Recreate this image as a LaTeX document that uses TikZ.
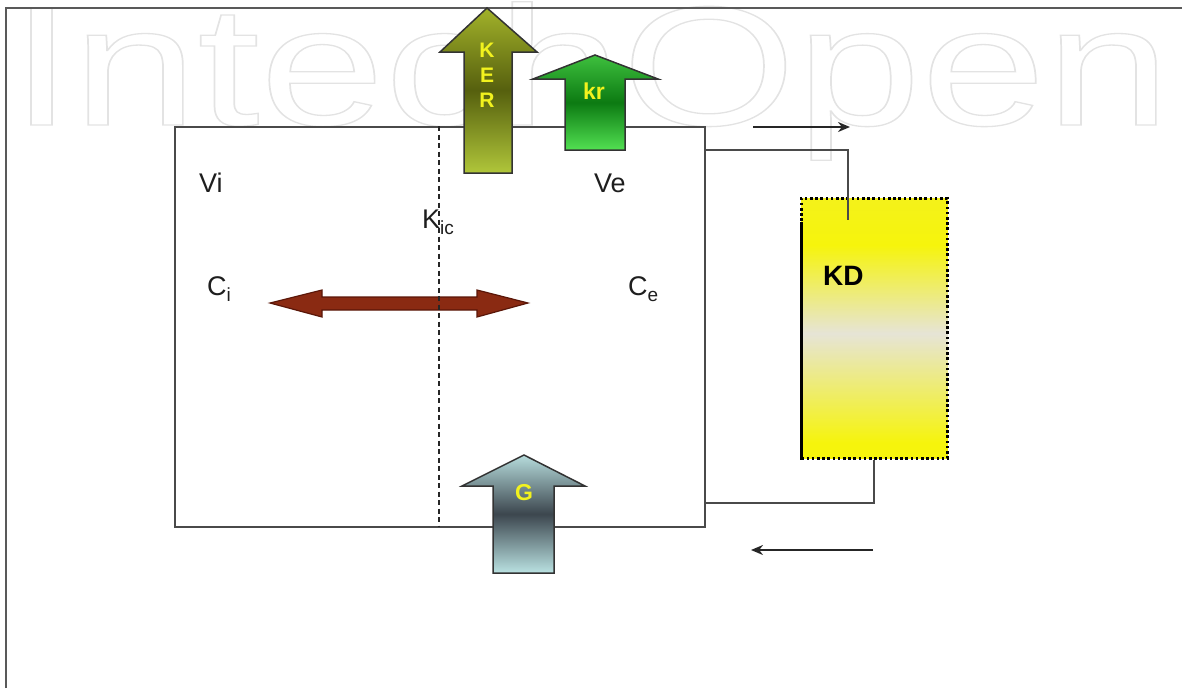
\documentclass[tikz,border=0pt]{standalone}
\usepackage{fontspec}
\setmainfont{Liberation Sans}
\usetikzlibrary{calc,arrows.meta}
\definecolor{kdy}{HTML}{F6F40C}
\definecolor{kdyt}{HTML}{F4F21A}
\definecolor{kdg}{HTML}{E6E4D6}
\definecolor{lineg}{HTML}{4A4A4A}
\definecolor{txtc}{HTML}{1E1E1E}
\definecolor{arrtxt}{HTML}{F2F21E}
\definecolor{kerT}{HTML}{A2B22A}
\definecolor{kerM}{HTML}{56600E}
\definecolor{kerB}{HTML}{B0C63A}
\definecolor{krT}{HTML}{3EC03E}
\definecolor{krM}{HTML}{0C7A12}
\definecolor{krB}{HTML}{52E052}
\definecolor{gT}{HTML}{B6DCDC}
\definecolor{gM}{HTML}{3C464E}
\definecolor{gB}{HTML}{BAE2E2}
\definecolor{redA}{HTML}{8A2A12}
\definecolor{redD}{HTML}{5A1608}
\pgfdeclareverticalshading{kdshade}{100bp}{color(0bp)=(kdy); color(28bp)=(kdy); color(49bp)=(kdg); color(66bp)=(kdy); color(75bp)=(kdyt); color(100bp)=(kdyt)}
\begin{document}
\begin{tikzpicture}[x=1pt,y=-1pt,
  lbl/.style={font=\fontsize{27}{27}\selectfont, inner sep=0pt, anchor=base west, text=txtc},
  arrlbl/.style={font=\fontsize{21}{21}\selectfont\bfseries, inner sep=0pt, text=arrtxt},
  fatarrow/.style={draw=black!80, line width=1.5pt, line join=miter},
  flow/.style={-{Stealth[length=12pt,width=10pt]}, line width=2pt, draw=black!85},
  wire/.style={line width=2pt, draw=lineg}]
\useasboundingbox (0,0) rectangle (1182,688);
% watermark
\node[anchor=base west, inner sep=0pt, xscale=1.32, text=black, text height=118pt, text depth=0pt] (wm) at (10,125)
  {\fontsize{170}{170}\selectfont\special{pdf:literal direct 1 Tr 1.3 w 0.89 G}IntechOpen\special{pdf:literal direct 0 Tr 0 G}};
% outer frame
\draw[line width=2.5pt, draw=black!65] (6,688) -- (6,8) -- (1182,8);
% main box
\node[draw=lineg, line width=2pt, minimum width=530pt, minimum height=400pt, anchor=north west, inner sep=0pt] (main) at (174,126) {};
% KD box
\node[shade, shading=kdshade, draw=black, line width=2.6pt, dash pattern=on 2.6pt off 2.6pt,
  minimum width=146pt, minimum height=260pt, anchor=north west, inner sep=0pt] (kd) at (800,197) {};
\draw[line width=3pt, black] ($(kd.north west)+(1,25)$) -- ($(kd.south west)+(1,0)$);
\node[font=\fontsize{28}{28}\selectfont\bfseries, inner sep=0pt, anchor=base west, text=black] (kdlbl) at (823,285) {KD};
% connectors to KD
\coordinate (kdin) at (848,220);
\draw[wire] (main.east |- 0,150) -| (kdin);
\draw[wire] (main.east |- 0,503) -| (kd.south);
\coordinate (f1a) at (753,127); \coordinate (f1b) at (850,127);
\coordinate (f2a) at (873,550); \coordinate (f2b) at (751,550);
\draw[flow] (f1a) -- (f1b);
\draw[flow] (f2a) -- (f2b);
% red double arrow
\draw[fatarrow, draw=redD, fill=redA, line width=1.2pt] (270,303) -- (322,290) -- (322,297) -- (477,297) -- (477,290) -- (528,303) -- (477,317) -- (477,310) -- (322,310) -- (322,317) -- cycle;
% dashed divider
\coordinate (dtop) at (439,126); \coordinate (dbot) at (439,526);
\draw[line width=1.6pt, black!85, dash pattern=on 5pt off 3.5pt] (dtop) -- (dbot);
% KER arrow
\shadedraw[fatarrow, top color=kerT, bottom color=kerB, middle color=kerM]
  (464,173) -- (464,52) -- (440,52) -- (487,8) -- (537,52) -- (512,52) -- (512,173) -- cycle;
\node[arrlbl] (k1) at (487,50) {K};
\node[arrlbl] (k2) at (487,75) {E};
\node[arrlbl] (k3) at (487,100) {R};
% kr arrow
\shadedraw[fatarrow, top color=krT, bottom color=krB, middle color=krM]
  (565,150) -- (565,79) -- (533,79) -- (595,55) -- (658,79) -- (625,79) -- (625,150) -- cycle;
\node[arrlbl, font=\fontsize{23}{23}\selectfont\bfseries] (kr) at (594,91) {kr};
% G arrow
\shadedraw[fatarrow, top color=gT, bottom color=gB, middle color=gM]
  (493,573) -- (493,486) -- (462,486) -- (524,455) -- (585,486) -- (554,486) -- (554,573) -- cycle;
\node[arrlbl, font=\fontsize{23}{23}\selectfont\bfseries] (g) at (524,493) {G};
% labels
\node[lbl] (vi) at (199,192) {Vi};
\node[lbl] (ve) at (594,192) {Ve};
\node[lbl] (kic) at (422,228) {K\raisebox{-6pt}{\fontsize{19}{19}\selectfont ic}};
\node[lbl] (ci) at (207,295) {C\raisebox{-6pt}{\fontsize{19}{19}\selectfont i}};
\node[lbl] (ce) at (628,295) {C\raisebox{-6pt}{\fontsize{19}{19}\selectfont e}};
\end{tikzpicture}
\end{document}
